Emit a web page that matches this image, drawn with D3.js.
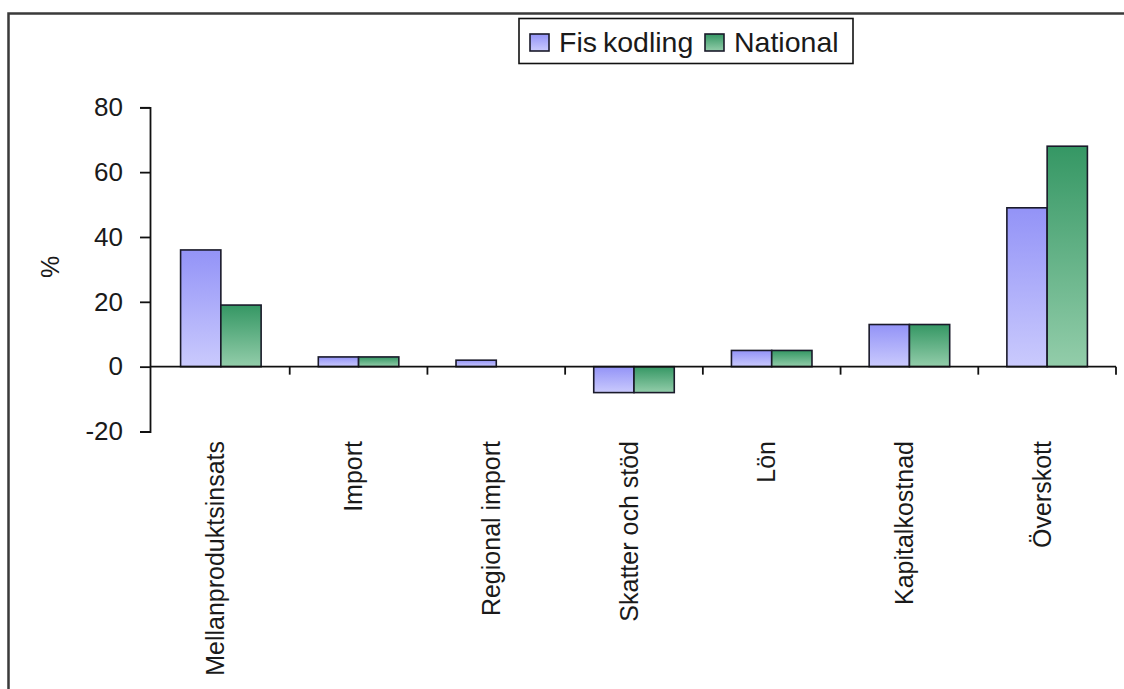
<!DOCTYPE html>
<html>
<head>
<meta charset="utf-8">
<script src="https://cdn.jsdelivr.net/npm/d3@7"></script>
<style>
  html, body { margin: 0; padding: 0; background: #fff; }
  svg { display: block; font-family: Arial, "Liberation Sans", sans-serif; }
</style>
</head>
<body>
<svg id="chart" width="1124" height="689"></svg>
<script>
// Categories of the value-added breakdown
const categories = ["Mellanproduktsinsats", "Import", "Regional import", "Skatter och stöd", "Lön", "Kapitalkostnad", "Överskott"];
// Series names
const seriesNames = ["Fiskodling", "National"];
// Shares in percent per category
const fiskodling = [36, 3, 2, -8, 5, 13, 49];
const national = [19, 3, 0, -8, 5, 13, 68];
// Y axis ticks
const yTicks = [-20, 0, 20, 40, 60, 80];

const seriesValues = { "Fiskodling": fiskodling, "National": national };
const rows = categories.map((c, i) => ({ cat: c, values: seriesNames.map(s => ({ key: s, value: seriesValues[s][i] })) }));

const svg = d3.select("#chart");

// Gradients (darker at the top, lighter at the bottom of each bar)
const defs = svg.append("defs");
const grads = {
  "Fiskodling": ["#9393f7", "#cacafd"],
  "National": ["#359764", "#93cdaa"]
};
seriesNames.forEach((s, i) => {
  const g = defs.append("linearGradient").attr("id", "grad" + i)
    .attr("x1", 0).attr("y1", 0).attr("x2", 0).attr("y2", 1);
  g.append("stop").attr("offset", "0%").attr("stop-color", grads[s][0]);
  g.append("stop").attr("offset", "100%").attr("stop-color", grads[s][1]);
});

// Outer frame
svg.append("rect")
  .attr("x", 8.5).attr("y", 13.5).attr("width", 1300).attr("height", 900)
  .attr("fill", "#fff").attr("stroke", "#3a3a3a").attr("stroke-width", 2.5);

// Scales
const y = d3.scaleLinear().domain([-20, 80]).range([431.5, 107.3]);
const x0 = d3.scaleBand().domain(categories).range([152, 1116]).paddingInner(0).paddingOuter(0);
const x1 = d3.scaleBand().domain(seriesNames).range([0, x0.bandwidth()]).paddingInner(0).paddingOuter(0.71);
const axisLeftX = 150;

// Bars
const groups = svg.append("g").selectAll("g").data(rows).join("g")
  .attr("transform", d => `translate(${x0(d.cat)},0)`);
groups.selectAll("rect").data(d => d.values.filter(v => v.value !== 0)).join("rect")
  .attr("x", d => x1(d.key))
  .attr("width", x1.bandwidth())
  .attr("y", d => y(Math.max(0, d.value)))
  .attr("height", d => Math.abs(y(d.value) - y(0)))
  .attr("fill", d => `url(#grad${seriesNames.indexOf(d.key)})`)
  .attr("stroke", "#1a1a2a").attr("stroke-width", 1.6);

// Y axis
const yAxis = d3.axisLeft(y).tickValues(yTicks).tickFormat(d => String(d))
  .tickSize(10).tickSizeOuter(10).tickPadding(17);
const gy = svg.append("g").attr("transform", `translate(${axisLeftX},0)`).call(yAxis);
gy.selectAll("path, line").attr("stroke", "#111").attr("stroke-width", 1.8);
gy.selectAll("text").attr("font-size", 26).attr("fill", "#1a1a1a")
  .attr("font-family", "Arial, 'Liberation Sans', sans-serif");

// X axis line at zero with ticks between categories
const gx = svg.append("g");
gx.append("line")
  .attr("x1", axisLeftX).attr("x2", x0.range()[1])
  .attr("y1", y(0)).attr("y2", y(0))
  .attr("stroke", "#111").attr("stroke-width", 1.8);
gx.selectAll("line.tick").data(categories).join("line").attr("class", "tick")
  .attr("x1", d => x0(d) + x0.bandwidth()).attr("x2", d => x0(d) + x0.bandwidth())
  .attr("y1", y(0)).attr("y2", y(0) + 8)
  .attr("stroke", "#111").attr("stroke-width", 1.8);

// Category labels, rotated
svg.append("g").selectAll("text").data(categories).join("text")
  .attr("transform", d => `translate(${x0(d) + x0.bandwidth() / 2 + 3.5},441) rotate(-90)`)
  .attr("text-anchor", "end")
  .attr("font-size", 25).attr("fill", "#1a1a1a")
  .text(d => d);

// Y axis title
svg.append("text")
  .attr("transform", "translate(59,267) rotate(-90)")
  .attr("text-anchor", "middle")
  .attr("font-size", 25).attr("fill", "#1a1a1a")
  .text("%");

// Legend
const legend = svg.append("g");
legend.append("rect")
  .attr("x", 519).attr("y", 18.5).attr("width", 334).attr("height", 45)
  .attr("fill", "#fff").attr("stroke", "#111").attr("stroke-width", 1.6);
const legendX = [530, 705];
seriesNames.forEach((s, i) => {
  legend.append("rect")
    .attr("x", legendX[i]).attr("y", 34).attr("width", 19).attr("height", 17)
    .attr("fill", `url(#grad${i})`).attr("stroke", "#1a1a2a").attr("stroke-width", 1.6);
  const t = legend.append("text")
    .attr("x", legendX[i] + 29).attr("y", 52)
    .attr("font-size", 28.5).attr("fill", "#1a1a1a");
  if (s === "Fiskodling") {
    t.append("tspan").text("Fis");
    t.append("tspan").attr("dx", 6).text("kodling");
  } else {
    t.text(s);
  }
});
</script>
</body>
</html>
